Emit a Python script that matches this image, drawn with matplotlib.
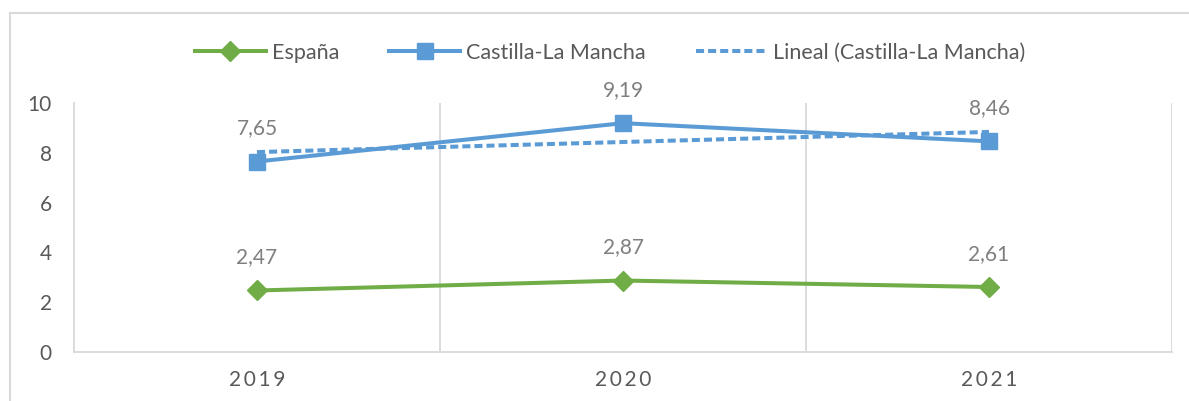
import matplotlib
matplotlib.use("Agg")
import matplotlib.pyplot as plt
import numpy as np
from matplotlib.lines import Line2D

plt.rcParams['font.family'] = ['Lato', 'DejaVu Sans']

years = ["2019", "2020", "2021"]
espana = [2.47, 2.87, 2.61]
clm = [7.65, 9.19, 8.46]
labels_espana = ["2,47", "2,87", "2,61"]
labels_clm = ["7,65", "9,19", "8,46"]

GREEN = "#70AD47"
BLUE = "#5B9BD5"
GRID = "#D9D9D9"
TXT = "#595959"
LBL = "#7F7F7F"

fig = plt.figure(figsize=(11.89, 4.01), dpi=100)
ax = fig.add_axes([74/1189, 49/401, (1172-74)/1189, 249/401])

x = np.arange(len(years))
coef = np.polyfit(x, clm, 1)
trend = np.polyval(coef, x)

ax.plot(x, espana, color=GREEN, lw=2.9, marker='D', ms=10, label="España", zorder=3)
ax.plot(x, clm, color=BLUE, lw=2.9, marker='s', ms=12, label="Castilla-La Mancha", zorder=3)
ax.plot(x, trend, color=BLUE, lw=2.9, ls=(0, (2.0, 1.0)), label="Lineal (Castilla-La Mancha)", zorder=2)

for xi, v, t in zip(x, espana, labels_espana):
    ax.annotate(t, (xi, v), xytext=(0, 24), textcoords='offset points', ha='center', va='center',
                fontsize=15, color=LBL)
for xi, v, t in zip(x, clm, labels_clm):
    ax.annotate(t, (xi, v), xytext=(0, 24), textcoords='offset points', ha='center', va='center',
                fontsize=15, color=LBL)

ax.set_xlim(-0.5, 2.5)
ax.set_ylim(0, 10)
ax.set_yticks([0, 2, 4, 6, 8, 10])
ax.set_xticks(x)
ax.set_xticklabels(["\u2009".join(y) for y in years])
ax.tick_params(axis='both', length=0, labelsize=15, colors=TXT)
ax.tick_params(axis='y', pad=16)
ax.tick_params(axis='x', pad=13)
for b in [0.5, 1.5, 2.5]:
    ax.axvline(b, color=GRID, lw=1.3, zorder=0)
for s in ['top', 'right']:
    ax.spines[s].set_visible(False)
for s in ['left', 'bottom']:
    ax.spines[s].set_color(GRID)
    ax.spines[s].set_linewidth(1.3)

leg = fig.legend(loc='center', bbox_to_anchor=(610/1189, 1 - 53/401), ncol=3, frameon=False,
                 fontsize=15.5, handlelength=3.3, columnspacing=2.3, handletextpad=0.3)
for t in leg.get_texts():
    t.set_color(TXT)

fig.add_artist(Line2D([10/1189, 1], [1 - 13/401, 1 - 13/401], color=GRID, lw=1.5, transform=fig.transFigure))
fig.add_artist(Line2D([10/1189, 10/1189], [0, 1 - 13/401], color=GRID, lw=1.5, transform=fig.transFigure))

fig.savefig("out.png", dpi=100)
